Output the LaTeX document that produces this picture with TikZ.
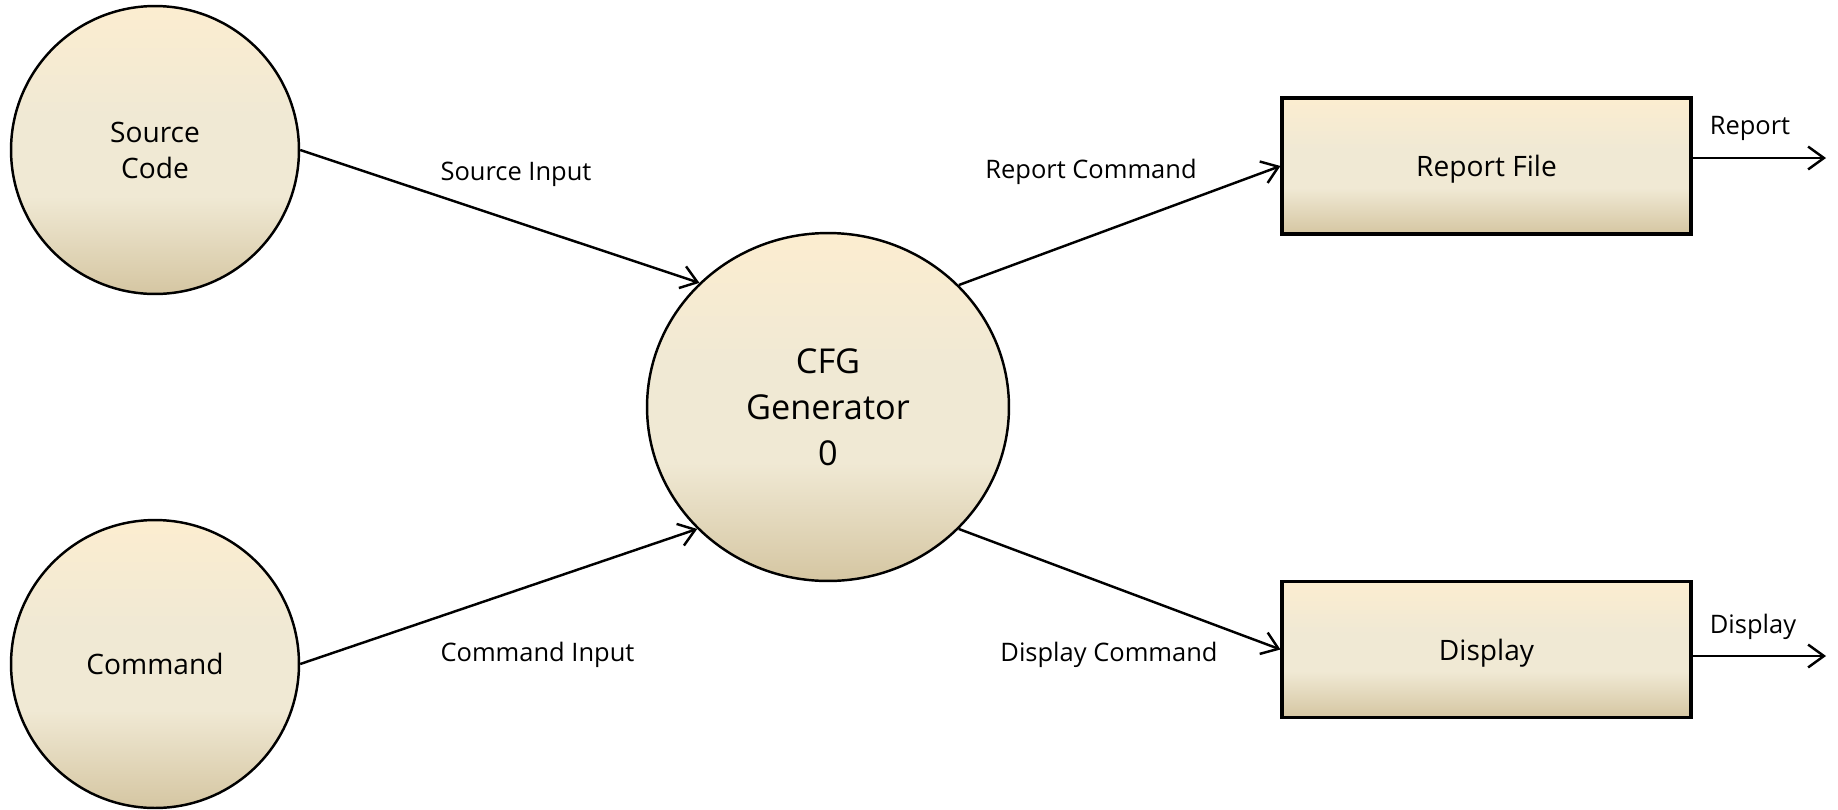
\documentclass[tikz,border=0pt]{standalone}
\usepackage{fontspec}
\setmainfont{Open Sans}
\usepackage{tikz}
\usetikzlibrary{positioning,arrows.meta,shapes.geometric}

\definecolor{dfdtop}{RGB}{252,237,208}
\definecolor{dfdmid}{RGB}{240,233,212}
\definecolor{dfdbot}{RGB}{213,198,162}
\pgfdeclareverticalshading{dfdfill}{100bp}{color(0bp)=(dfdbot); color(25bp)=(dfdbot); color(42bp)=(dfdmid); color(56bp)=(dfdmid); color(75bp)=(dfdtop); color(100bp)=(dfdtop)}

\tikzset{
  extent/.style={circle, draw, line width=1.4pt, shading=dfdfill, shade,
    minimum size=5.76cm, inner sep=0pt, align=center, text depth=-1pt,
    font=\fontsize{16}{20.5}\selectfont},
  proc/.style={ellipse, draw, line width=1.4pt, shading=dfdfill, shade,
    minimum width=7.24cm, minimum height=6.96cm, inner sep=0pt, align=center,
    text depth=-2pt, font=\fontsize{19.5}{26}\selectfont},
  store/.style={rectangle, draw, line width=1.8pt, shading=dfdfill, shade,
    minimum width=8.18cm, minimum height=2.72cm, inner sep=0pt, text depth=0pt,
    font=\fontsize{16}{20.5}\selectfont},
  flow/.style={-{Straight Barb[length=9pt,width=13pt]}, line width=1.4pt},
  flowlbl/.style={inner sep=0pt, font=\fontsize{14.5}{17}\selectfont}
}

\begin{document}
\begin{tikzpicture}[x=0.02cm, y=-0.02cm]
  \useasboundingbox (0,0) rectangle (1838,809);

  \node[extent] (src) at (155,150) {Source\\Code};
  \node[extent] (cmd) at (155,664) {Command};
  \node[proc] (cfg) at (828,407) {CFG\\Generator\\0};
  \node[store] (rep) at (1486.5,166) {Report File};
  \node[store] (disp) at (1486.5,649.5) {Display};

  \coordinate (repout) at (1826,158);
  \coordinate (dispout) at (1826,656);

  \draw[flow] (src.east) -- (cfg.136.6);
  \draw[flow] (cmd.east) -- (cfg.223.4);
  \draw[flow] (cfg.43.6) -- (rep.west);
  \draw[flow] (cfg.-43.6) -- (disp.west);
  \draw[flow] (rep.east |- repout) -- (repout);
  \draw[flow] (disp.east |- dispout) -- (dispout);

  \node[flowlbl] (srcin) at (516,174) {Source Input};
  \node[flowlbl] (cmdin) at (537.5,655) {Command Input};
  \node[flowlbl] (repcmd) at (1091,172) {Report Command};
  \node[flowlbl] (dispcmd) at (1109,655) {Display Command};
  \node[flowlbl] (replbl) at (1750,128) {Report};
  \node[flowlbl] (displbl) at (1753,627) {Display};
\end{tikzpicture}
\end{document}
